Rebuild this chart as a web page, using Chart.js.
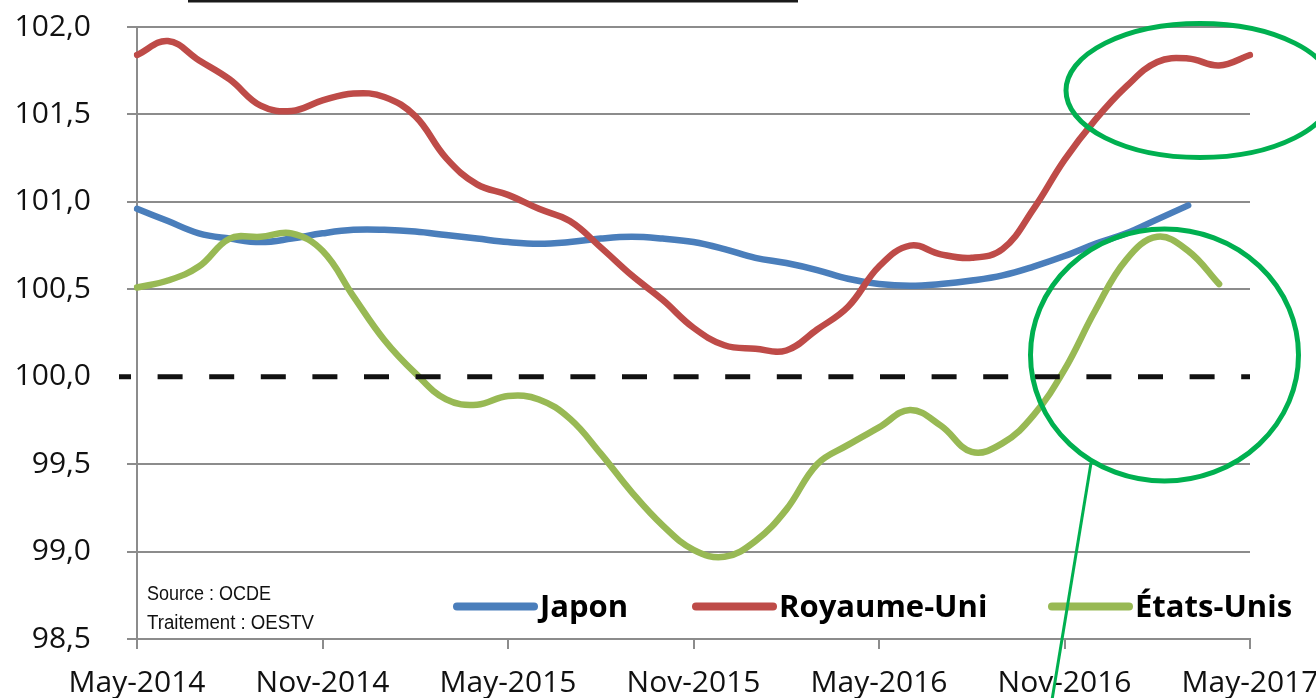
<!DOCTYPE html>
<html>
<head>
<meta charset="utf-8">
<script src="https://cdn.jsdelivr.net/npm/chart.js@4.4.0/dist/chart.umd.min.js"></script>
<style>
  body { margin: 0; background: #fff; }
  #chart { display: block; }
</style>
</head>
<body>
<canvas id="chart" width="1316" height="698"></canvas>
<script>
// monthly, May-2014 .. May-2017
const monthNames = ["Jan", "Feb", "Mar", "Apr", "May", "Jun", "Jul", "Aug", "Sep", "Oct", "Nov", "Dec"];
const months = [];
for (let i = 0; i < 37; i++) {
    const m = (4 + i) % 12;
    const y = 2014 + Math.floor((4 + i) / 12);
    months.push(monthNames[m] + "-" + y);
}

const tickLabels = ["May-2014", "Nov-2014", "May-2015", "Nov-2015", "May-2016", "Nov-2016", "May-2017"];
const yTicks = [98.5, 99.0, 99.5, 100.0, 100.5, 101.0, 101.5, 102.0];
const seriesNames = ["Japon", "Royaume-Uni", "États-Unis"];
const seriesColors = ["#4a7ebb", "#be4b48", "#98b954"];

const japon = [100.96, 100.89, 100.82, 100.79, 100.77, 100.79, 100.82, 100.84, 100.84, 100.83,
    100.81, 100.79, 100.77, 100.76, 100.77, 100.79, 100.80, 100.79, 100.77, 100.73,
    100.68, 100.65, 100.61, 100.56, 100.53, 100.52, 100.53, 100.55, 100.58, 100.63,
    100.69, 100.76, 100.82, 100.90, 100.98, null, null];

const royaumeUni = [101.84, 101.92, 101.81, 101.70, 101.55, 101.52, 101.58, 101.62, 101.60, 101.49,
    101.25, 101.10, 101.04, 100.96, 100.89, 100.74, 100.58, 100.44, 100.28, 100.18,
    100.16, 100.15, 100.27, 100.40, 100.63, 100.75, 100.70, 100.68, 100.73, 100.96,
    101.24, 101.47, 101.66, 101.80, 101.82, 101.78, 101.84];

const etatsUnis = [100.51, 100.55, 100.63, 100.79, 100.80, 100.82, 100.72, 100.46, 100.21, 100.02,
    99.87, 99.84, 99.89, 99.87, 99.76, 99.56, 99.34, 99.15, 99.01, 98.97,
    99.06, 99.24, 99.50, 99.61, 99.71, 99.81, 99.72, 99.57, 99.62, 99.78,
    100.04, 100.38, 100.67, 100.80, 100.72, 100.53, null];

const baseline = 100;
const gridGray = "#8c8c8c";

const frLabel = (v) => v.toFixed(1).replace(".", ",");

// narrow text: squeeze a regular face to a given width
function narrowText(ctx, text, x, y, width) {
    const sx = width / ctx.measureText(text).width;
    ctx.save();
    ctx.translate(x, y);
    ctx.scale(sx, 1);
    ctx.fillText(text, 0, 0);
    ctx.restore();
}

// dashed 100 line, legend and the hand-drawn green marks
const extras = {
    id: "extras",
    afterDatasetsDraw(chart) {
        const { ctx, chartArea, scales } = chart;
        const y = scales.y.getPixelForValue(baseline);
        ctx.save();
        ctx.strokeStyle = "#111";
        ctx.lineWidth = 5;
        ctx.setLineDash([25, 26.6]);
        ctx.lineDashOffset = 13;
        ctx.beginPath();
        ctx.moveTo(chartArea.left - 18, y);
        ctx.lineTo(chartArea.right, y);
        ctx.stroke();
        ctx.restore();
    },
    afterDraw(chart) {
        const { ctx } = chart;
        ctx.save();

        // source
        ctx.fillStyle = "#111";
        ctx.font = "20px 'Liberation Sans'";
        ctx.textBaseline = "alphabetic";
        narrowText(ctx, "Source : OCDE", 147, 599.5, 124);
        narrowText(ctx, "Traitement : OESTV", 147, 629, 167);

        // legend
        const legendX = [457, 696, 1052];
        ctx.font = "bold 31px 'Open Sans'";
        seriesNames.forEach((name, i) => {
            ctx.strokeStyle = seriesColors[i];
            ctx.lineWidth = 8;
            ctx.lineCap = "round";
            ctx.beginPath();
            ctx.moveTo(legendX[i], 606.5);
            ctx.lineTo(legendX[i] + 77, 606.5);
            ctx.stroke();
            ctx.fillStyle = "#000";
            ctx.fillText(name, legendX[i] + 83, 617);
        });

        // cropped title underline
        ctx.fillStyle = "#1a1a1a";
        ctx.fillRect(188, 0, 610, 2.5);

        // green marks
        ctx.strokeStyle = "#00b050";
        ctx.lineWidth = 5;
        ctx.beginPath();
        ctx.ellipse(1200, 90.5, 134, 67, 0, 0, Math.PI * 2);
        ctx.stroke();
        ctx.beginPath();
        ctx.ellipse(1164.5, 355, 134, 126, 0, 0, Math.PI * 2);
        ctx.stroke();
        ctx.lineWidth = 3;
        ctx.lineCap = "butt";
        ctx.beginPath();
        ctx.moveTo(1091, 463);
        ctx.lineTo(1052, 700);
        ctx.stroke();

        ctx.restore();
    }
};

const makeSet = (label, data, color, order) => ({
    label,
    data,
    borderColor: color,
    backgroundColor: color,
    borderWidth: 6.5,
    pointRadius: 0,
    tension: 0.4,
    borderCapStyle: "round",
    borderJoinStyle: "round",
    spanGaps: false,
    order
});

new Chart(document.getElementById("chart"), {
    type: "line",
    data: {
        labels: months,
        datasets: [
            makeSet(seriesNames[0], japon, seriesColors[0], 2),
            makeSet(seriesNames[1], royaumeUni, seriesColors[1], 1),
            makeSet(seriesNames[2], etatsUnis, seriesColors[2], 0)
        ]
    },
    options: {
        responsive: false,
        animation: false,
        layout: { padding: { top: 27, right: 66, bottom: 0, left: 0 } },
        plugins: {
            legend: { display: false },
            tooltip: { enabled: false }
        },
        scales: {
            x: {
                afterFit: (scale) => {
                    scale.height = 59;
                    scale.paddingLeft = 0;
                    scale.paddingRight = 0;
                },
                grid: {
                    drawOnChartArea: false,
                    drawTicks: true,
                    tickLength: 10,
                    lineWidth: 2,
                    color: (c) => (c.index % 6 === 0 ? gridGray : "rgba(0,0,0,0)")
                },
                border: { display: true, color: gridGray, width: 2 },
                ticks: {
                    autoSkip: false,
                    maxRotation: 0,
                    padding: 16,
                    color: "#111",
                    font: { family: "'Open Sans'", size: 30 },
                    callback: (v, i) => (i % 6 === 0 ? tickLabels[i / 6] : "")
                }
            },
            y: {
                min: yTicks[0],
                max: yTicks[yTicks.length - 1],
                afterFit: (scale) => {
                    scale.width = 137;
                    scale.paddingTop = 0;
                    scale.paddingBottom = 0;
                },
                afterBuildTicks: (scale) => { scale.ticks = yTicks.map((v) => ({ value: v })); },
                grid: {
                    lineWidth: 2,
                    tickLength: 10,
                    color: (c) => (c.tick && c.tick.value === baseline ? "rgba(0,0,0,0)" : gridGray)
                },
                border: { display: true, color: gridGray, width: 2 },
                ticks: {
                    padding: 36,
                    color: "#111",
                    font: { family: "'Open Sans'", size: 30 },
                    callback: (v) => frLabel(v)
                }
            }
        }
    },
    plugins: [extras]
});
</script>
</body>
</html>
